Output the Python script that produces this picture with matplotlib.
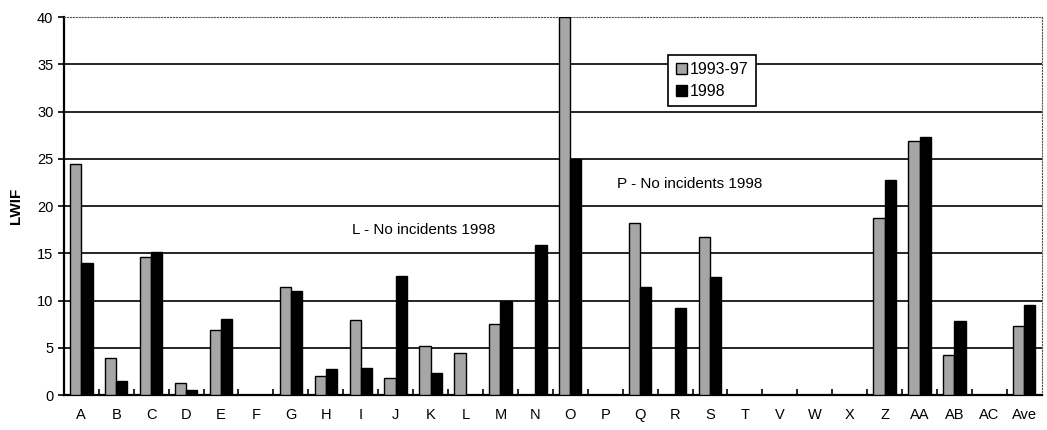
import matplotlib
matplotlib.use("Agg")
import matplotlib.pyplot as plt
import numpy as np

categories = ["A", "B", "C", "D", "E", "F", "G", "H", "I", "J", "K", "L", "M", "N",
              "O", "P", "Q", "R", "S", "T", "V", "W", "X", "Z", "AA", "AB", "AC", "Ave"]
lwif_9397 = [24.5, 3.9, 14.6, 1.3, 6.9, 0, 11.4, 2.0, 8.0, 1.8, 5.2, 4.5, 7.5, 0,
             40.0, 0, 18.2, 0, 16.7, 0, 0, 0, 0, 18.8, 26.9, 4.3, 0, 7.3]
lwif_1998 = [14.0, 1.5, 15.2, 0.5, 8.1, 0, 11.0, 2.8, 2.9, 12.6, 2.3, 0, 10.0, 15.9,
             25.0, 0, 11.4, 9.2, 12.5, 0, 0, 0, 0, 22.8, 27.3, 7.8, 0, 9.5]
series_labels = ["1993-97", "1998"]

plt.rcParams["font.family"] = ["Liberation Sans", "DejaVu Sans"]

fig = plt.figure(figsize=(10.47, 4.30), dpi=100)
ax = fig.add_axes([0.061, 0.081, 0.934, 0.879])

x = np.arange(len(categories))
w = 0.32
ax.bar(x - w / 2, lwif_9397, w, color="#a6a6a6", edgecolor="black", linewidth=1.0,
       label=series_labels[0], zorder=3)
ax.bar(x + w / 2, lwif_1998, w, color="black", edgecolor="black", linewidth=1.0,
       label=series_labels[1], zorder=3)

ax.set_xlim(-0.5, len(categories) - 0.5)
ax.set_ylim(0, 40)
ax.set_yticks(range(0, 41, 5))
ax.set_xticks(x)
ax.set_xticklabels(categories, fontsize=10.5)
ax.set_xticks(np.arange(0.5, len(categories) - 1, 1), minor=True)
ax.tick_params(axis="x", which="major", length=0, pad=9)
ax.tick_params(axis="x", which="minor", length=4, direction="in", width=1.2)
ax.tick_params(axis="y", labelsize=10.5, length=4, width=1.2)

for yv in range(5, 40, 5):
    ax.axhline(yv, color="black", linewidth=1.2, zorder=1)

ax.spines["left"].set_linewidth(1.6)
ax.spines["bottom"].set_linewidth(1.6)
ax.spines["top"].set_linestyle(":")
ax.spines["top"].set_color("#555555")
ax.spines["right"].set_linestyle(":")
ax.spines["right"].set_color("#555555")

ax.set_ylabel("LWIF", fontsize=11, fontweight="bold", labelpad=10)

ax.text(7.75, 17.5, "L - No incidents 1998", fontsize=11, va="center", ha="left", zorder=4)
ax.text(15.33, 22.3, "P - No incidents 1998", fontsize=11, va="center", ha="left", zorder=4)

leg = ax.legend(loc="upper left", bbox_to_anchor=(0.610, 0.922), fontsize=11.5,
                frameon=True, fancybox=False, edgecolor="black", framealpha=1,
                handlelength=0.7, handleheight=0.7, handletextpad=0.2,
                borderpad=0.45, labelspacing=0.45)
leg.get_frame().set_linewidth(1.2)
leg.set_zorder(5)

fig.savefig("out.png", dpi=100, facecolor="white")
